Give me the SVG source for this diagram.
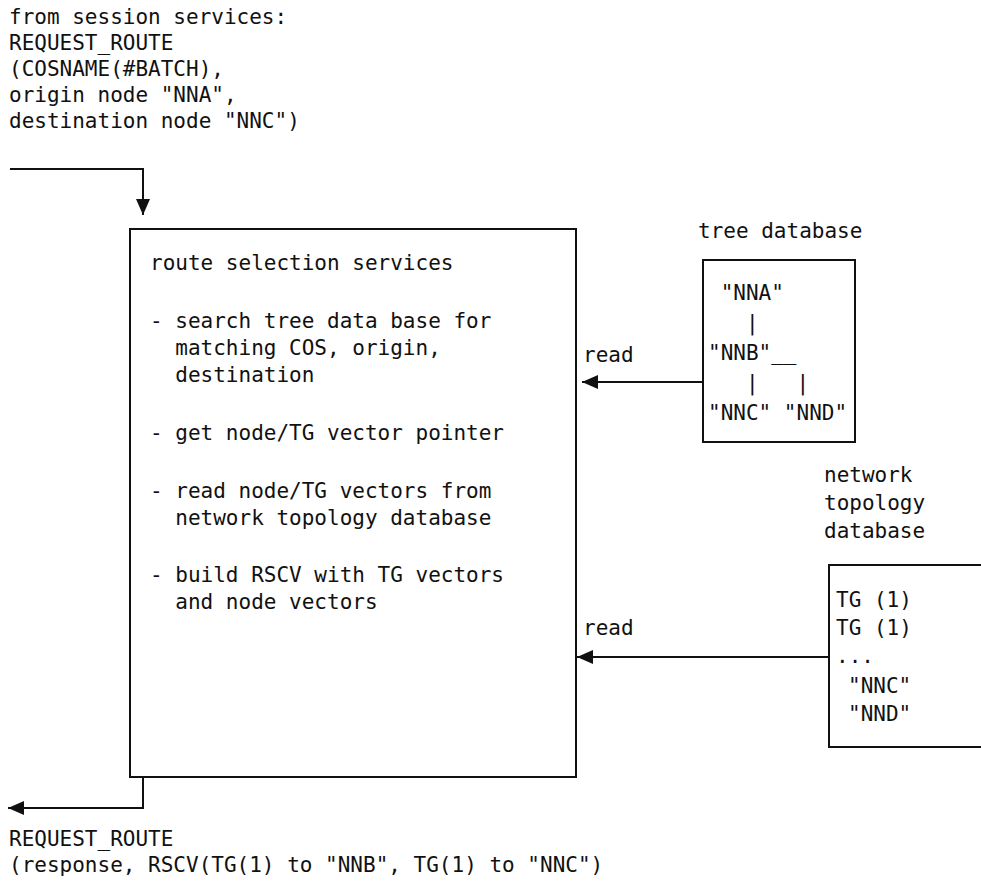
<svg xmlns="http://www.w3.org/2000/svg" width="981" height="886" viewBox="0 0 981 886">
<style>
text{font-family:"DejaVu Sans Mono","Liberation Mono",monospace;font-size:21px;fill:#111;white-space:pre}
.box{fill:none;stroke:#111;stroke-width:2}
.ln{fill:none;stroke:#111;stroke-width:2}
</style>
<defs>
<marker id="ah" markerWidth="16" markerHeight="14" refX="16" refY="7" orient="auto" markerUnits="userSpaceOnUse"><path d="M0,0 L16,7 L0,14 z" fill="#111"/></marker>
</defs>
<rect width="981" height="886" fill="#fff"/>
<g id="request-in">
<text x="9" y="24">from session services:</text>
<text x="9" y="50">REQUEST_ROUTE</text>
<text x="9" y="76">(COSNAME(#BATCH),</text>
<text x="9" y="102">origin node "NNA",</text>
<text x="9" y="128">destination node "NNC")</text>
</g>
<g id="rss">
<rect class="box" x="130" y="229" width="446" height="548"/>
<text x="150" y="270">route selection services</text>
<text x="150" y="328">- search tree data base for</text>
<text x="150" y="355">  matching COS, origin,</text>
<text x="150" y="382">  destination</text>
<text x="150" y="440">- get node/TG vector pointer</text>
<text x="150" y="498">- read node/TG vectors from</text>
<text x="150" y="525">  network topology database</text>
<text x="150" y="582">- build RSCV with TG vectors</text>
<text x="150" y="609">  and node vectors</text>
</g>
<g id="tree-db">
<text x="698" y="238">tree database</text>
<rect class="box" x="703" y="260" width="152" height="182"/>
<text x="708" y="300"> "NNA"</text>
<text x="708" y="330">   |</text>
<text x="708" y="360">"NNB"__</text>
<text x="708" y="390">   |   |</text>
<text x="708" y="420">"NNC" "NND"</text>
</g>
<g id="topology-db">
<text x="824" y="482">network</text>
<text x="824" y="510">topology</text>
<text x="824" y="538">database</text>
<path class="box" d="M990,565 H829 V747 H990"/>
<text x="836" y="607">TG (1)</text>
<text x="836" y="635">TG (1)</text>
<text x="836" y="663">...</text>
<text x="848" y="693">"NNC"</text>
<text x="848" y="721">"NND"</text>
</g>
<g id="response-out">
<text x="9" y="846">REQUEST_ROUTE</text>
<text x="9" y="872">(response, RSCV(TG(1) to "NNB", TG(1) to "NNC")</text>
</g>
<g id="connectors">
<path class="ln" d="M10,169 H143 V215" marker-end="url(#ah)"/>
<path class="ln" d="M703,382 H582" marker-end="url(#ah)"/>
<text x="583" y="362">read</text>
<path class="ln" d="M829,657 H577" marker-end="url(#ah)"/>
<text x="583" y="635">read</text>
<path class="ln" d="M143,777 V808 H8" marker-end="url(#ah)"/>
</g>
</svg>
